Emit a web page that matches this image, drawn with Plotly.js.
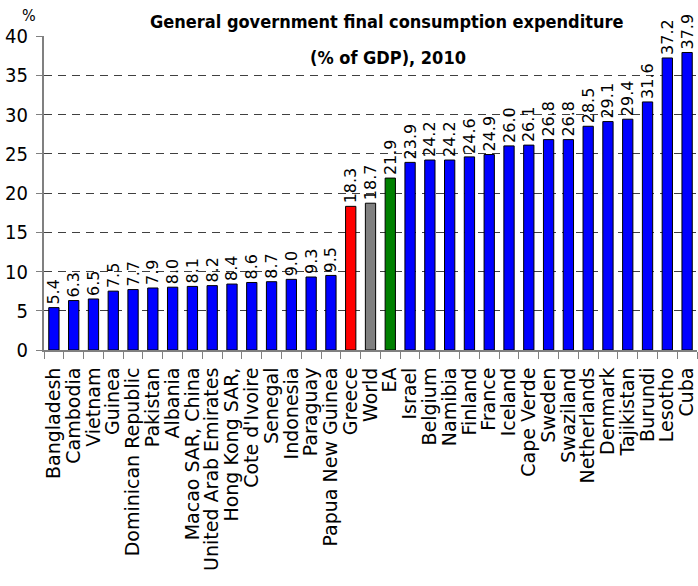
<!DOCTYPE html>
<html><head><meta charset="utf-8">
<script src="https://cdn.plot.ly/plotly-3.0.1.min.js"></script>
<style>html,body{margin:0;padding:0;background:#fff;}</style>
</head><body>
<div id="chart" style="width:698px;height:586px;"></div>
<script>
const categories = ["Bangladesh","Cambodia","Vietnam","Guinea","Dominican Republic","Pakistan","Albania","Macao SAR, China","United Arab Emirates","Hong Kong SAR,","Cote d'Ivoire","Senegal","Indonesia","Paraguay","Papua New Guinea","Greece","World","EA","Israel","Belgium","Namibia","Finland","France","Iceland","Cape Verde","Sweden","Swaziland","Netherlands","Denmark","Tajikistan","Burundi","Lesotho","Cuba"];
const values = [5.4,6.3,6.5,7.5,7.7,7.9,8.0,8.1,8.2,8.4,8.6,8.7,9.0,9.3,9.5,18.3,18.7,21.9,23.9,24.2,24.2,24.6,24.9,26.0,26.1,26.8,26.8,28.5,29.1,29.4,31.6,37.2,37.9];
const highlight = {"Greece":"#ff0000","World":"#808080","EA":"#008000"};
const colors = categories.map(c => highlight[c] || "#0000ff");
const yTicks = [0,5,10,15,20,25,30,35,40];

const trace = {
  type: "bar",
  x: categories,
  y: values,
  marker: {color: colors, line: {color: "#000000", width: 1}},
  text: values.map(v => v.toFixed(1)),
  textposition: "outside",
  textangle: -90,
  constraintext: "none",
  cliponaxis: false,
  textfont: {family: "DejaVu Sans", size: 16, color: "#000"},
  hoverinfo: "x+y"
};

const layout = {
  width: 698, height: 586,
  margin: {l: 44, r: 1, t: 36, b: 236},
  paper_bgcolor: "#fff", plot_bgcolor: "#fff",
  showlegend: false,
  bargap: 0.48,
  xaxis: {
    type: "category",
    tickmode: "array",
    tickvals: categories,
    ticktext: categories,
    tickangle: -90,
    tickfont: {family: "DejaVu Sans", size: 19, color: "#000"},
    ticklabelstandoff: 8,
    ticks: "outside", tickson: "boundaries", ticklen: 7, tickcolor: "#808080", tickwidth: 1,
    showline: true, linecolor: "#808080", linewidth: 2,
    showgrid: false, automargin: false
  },
  yaxis: {
    range: [0, 40],
    tickmode: "array",
    tickvals: yTicks,
    tickfont: {family: "DejaVu Sans Condensed", size: 20, color: "#000"},
    ticklabelstandoff: 4,
    ticks: "outside", ticklen: 6, tickcolor: "#808080",
    showline: true, linecolor: "#808080", linewidth: 2,
    showgrid: true, gridcolor: "#404040", griddash: "8px,6px", gridwidth: 1,
    zeroline: false, automargin: false
  },
  annotations: [
    {text: "%", xref: "paper", yref: "paper", x: -0.036, y: 1.0, yshift: 21, yanchor: "middle", showarrow: false,
     font: {family: "DejaVu Sans Condensed", size: 16, color: "#000"}},
    {text: "<b>General government final consumption expenditure</b>", xref: "paper", yref: "paper",
     x: 0.524, y: 1.0, yshift: 15, yanchor: "middle", showarrow: false, xanchor: "center",
     font: {family: "DejaVu Sans Condensed", size: 18, color: "#000"}},
    {text: "<b>(% of GDP), 2010</b>", xref: "paper", yref: "paper",
     x: 0.527, y: 0.933, yanchor: "middle", showarrow: false, xanchor: "center",
     font: {family: "DejaVu Sans Condensed", size: 18, color: "#000"}}
  ]
};

Plotly.newPlot("chart", [trace], layout, {displayModeBar: false, staticPlot: true});
</script>
</body></html>
